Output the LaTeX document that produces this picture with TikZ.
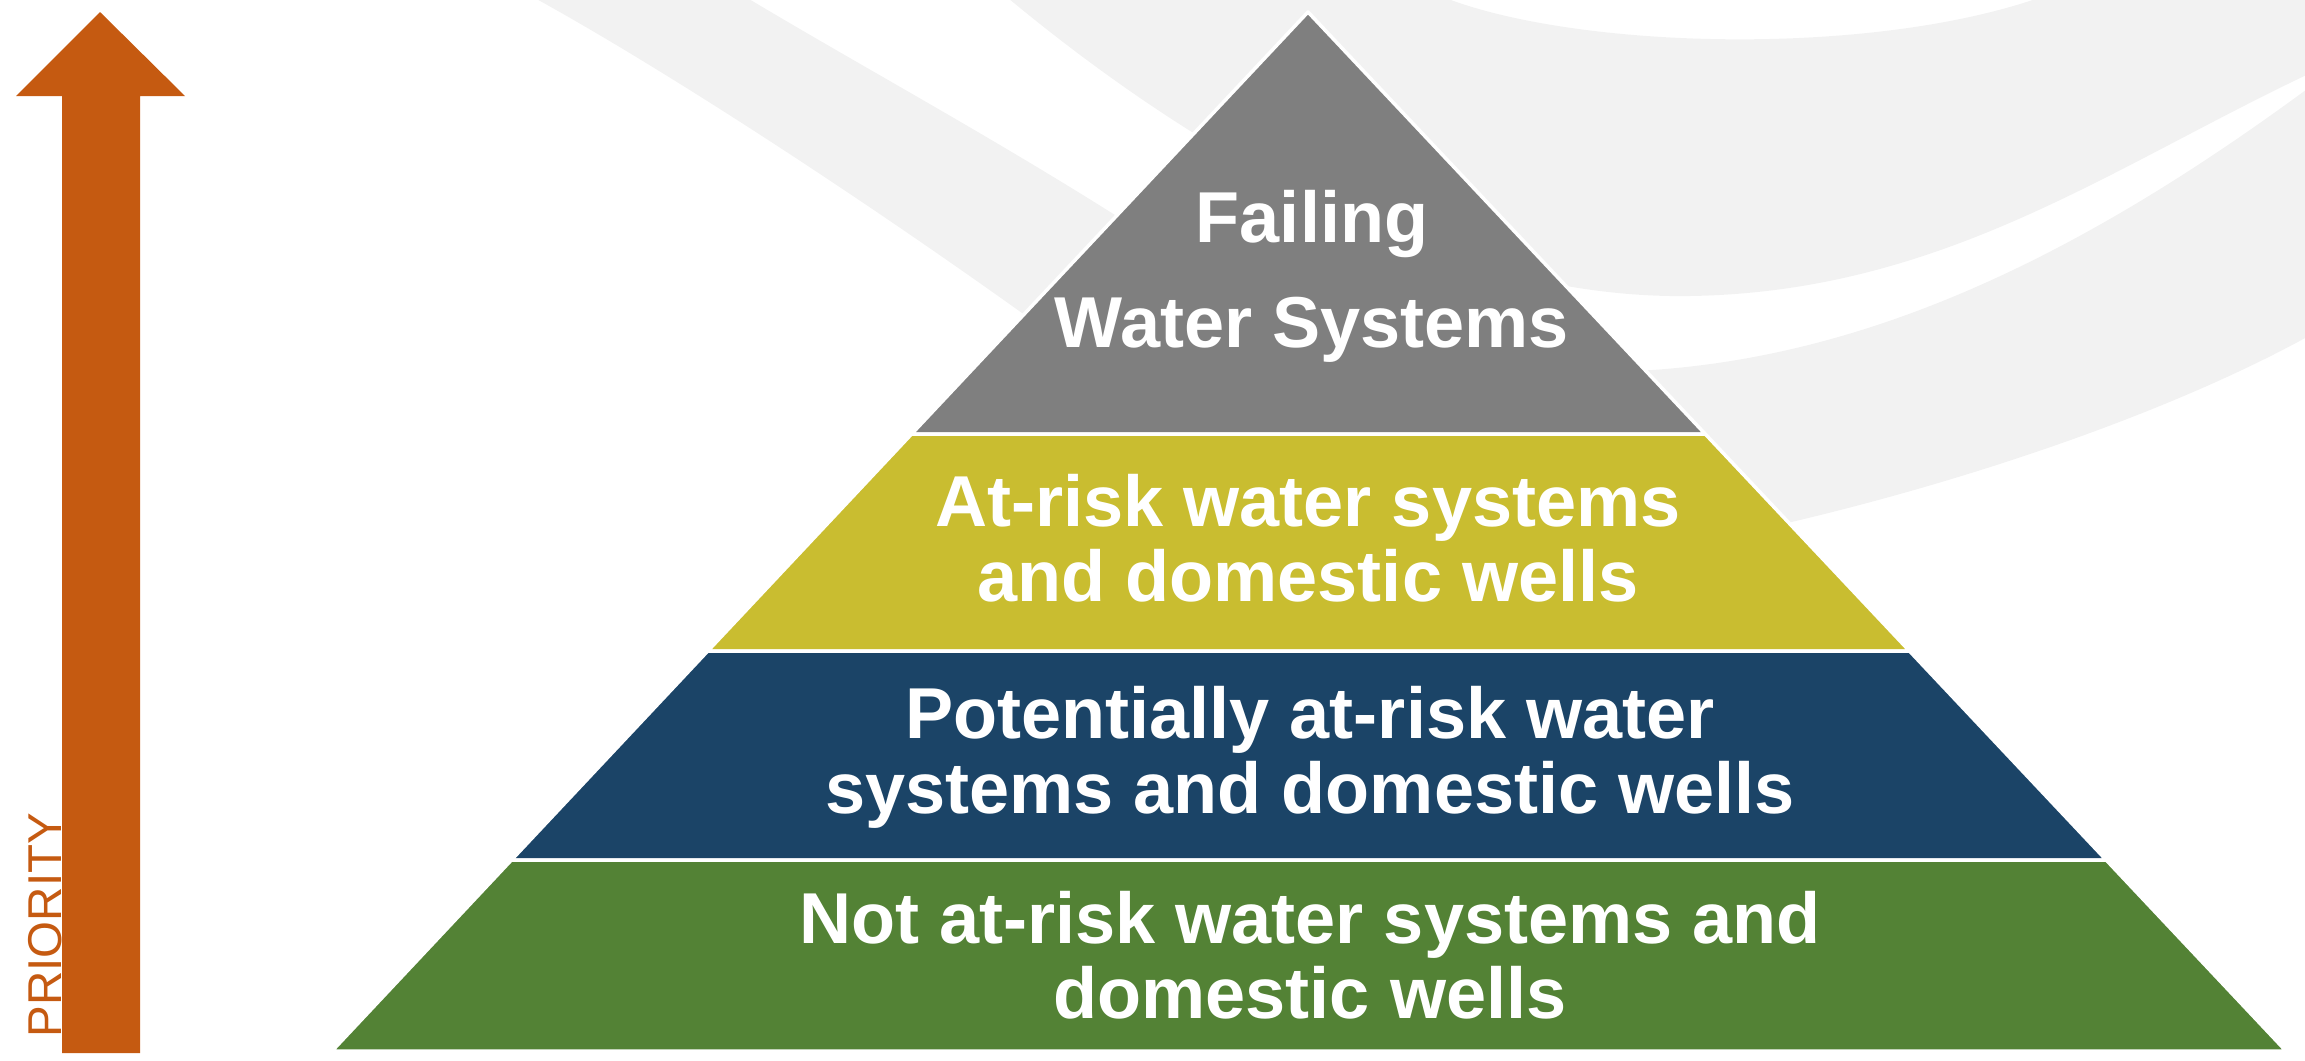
\documentclass[tikz,border=0pt]{standalone}
\usepackage{fontspec}
\setmainfont{Liberation Sans}
\usetikzlibrary{calc}
\definecolor{swoosh}{HTML}{F2F2F2}
\definecolor{priority}{HTML}{C55A11}
\definecolor{failing}{HTML}{7F7F7F}
\definecolor{atrisk}{HTML}{C9BD30}
\definecolor{potential}{HTML}{1B4467}
\definecolor{notrisk}{HTML}{538235}

\begin{document}
\begin{tikzpicture}[x=0.01cm,y=-0.01cm,
  tier/.style={draw=white,line width=0.035cm,line join=round},
  tiertext/.style={text=white,align=center,anchor=base,inner sep=0pt,
    font=\bfseries\fontsize{20.5pt}{21.3pt}\selectfont}]
  \useasboundingbox (0,0) rectangle (2305,1060);
  % background swooshes
  \begin{scope}
    \clip (0,0) rectangle (2305,1060);
    \fill[swoosh] (520,-10) .. controls (650,60) and (850,190) .. (1022,313)
      .. controls (1250,476) and (1550,580) .. (1800,520)
      .. controls (2000,472) and (2200,400) .. (2330,324) -- (2330,72)
      .. controls (2080,260) and (1850,370) .. (1600,372)
      .. controls (1400,374) and (1250,300) .. (1115,215)
      .. controls (980,130) and (850,60) .. (734,-10) -- cycle;
    \fill[swoosh] (996,-12) .. controls (1200,160) and (1450,300) .. (1690,296)
      .. controls (1950,292) and (2120,160) .. (2330,64) -- (2330,-20) -- (2055,-20) -- (2055,-8)
      .. controls (1880,60) and (1560,50) .. (1431,-8) -- (1431,-20) -- (996,-20) -- cycle;
  \end{scope}
  % priority arrow
  \fill[priority] (100,12) -- (185,96) -- (140,96) -- (140,1053) -- (62,1053) -- (62,96) -- (16,96) -- cycle;
  \node[rotate=90,anchor=base west,inner sep=0pt,text=priority,font=\fontsize{13.5pt}{16pt}\selectfont] (prio) at (61,1038) {PRIORITY};
  % pyramid
  \coordinate (apex) at (1308,12);
  \coordinate (bl) at (332,1051);
  \coordinate (br) at (2286,1051);
  \coordinate (l1) at ($(apex)!0.4062!(bl)$);
  \coordinate (r1) at ($(apex)!0.4062!(br)$);
  \coordinate (l2) at ($(apex)!0.6150!(bl)$);
  \coordinate (r2) at ($(apex)!0.6150!(br)$);
  \coordinate (l3) at ($(apex)!0.8162!(bl)$);
  \coordinate (r3) at ($(apex)!0.8162!(br)$);
  \filldraw[tier,fill=failing] (apex) -- (r1) -- (l1) -- cycle;
  \filldraw[tier,fill=atrisk] (l1) -- (r1) -- (r2) -- (l2) -- cycle;
  \filldraw[tier,fill=potential] (l2) -- (r2) -- (r3) -- (l3) -- cycle;
  \filldraw[tier,fill=notrisk] (l3) -- (r3) -- (br) -- (bl) -- cycle;
  \node[tiertext,font=\bfseries\fontsize{20.5pt}{29.6pt}\selectfont] (failtext) at (1312,347) {Failing\\Water Systems};
  \node[tiertext] (atrisktext) at (1308,601) {At-risk water systems\\and domestic wells};
  \node[tiertext] (potentialtext) at (1310,813) {Potentially at-risk water\\systems and domestic wells};
  \node[tiertext] (notrisktext) at (1310,1018) {Not at-risk water systems and\\domestic wells};
\end{tikzpicture}
\end{document}
